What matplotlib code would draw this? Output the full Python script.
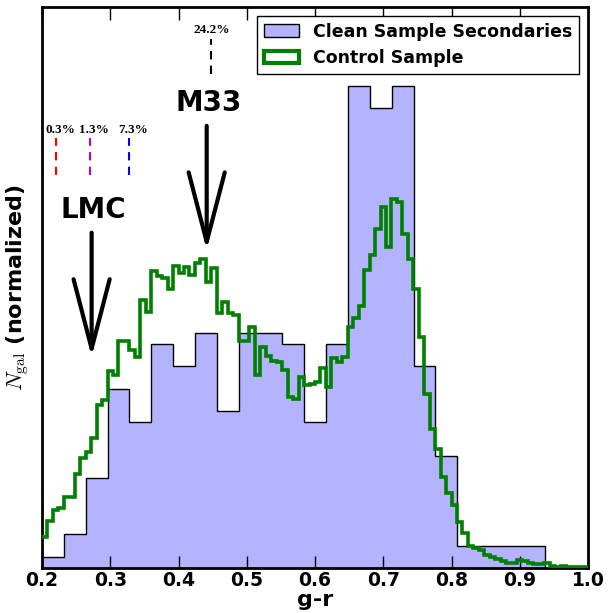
import numpy as np
import matplotlib
matplotlib.use('Agg')
import matplotlib.pyplot as plt
from matplotlib.patches import Patch

plt.rcParams['mathtext.fontset'] = 'cm'

# g-r histograms (normalized) ----------------------------------------------
# clean sample secondaries: raw counts in 23 bins from 0.2 to 0.9365
clean_lo, clean_hi = 0.2, 0.9365
clean_counts = [1, 3, 8, 16, 13, 20, 18, 21, 14, 21, 21, 20,
                13, 20, 43, 41, 43, 18, 10, 2, 2, 2, 2]
# control sample: normalized values in 100 bins from 0.2 to 1.0
ctrl_lo, ctrl_hi = 0.2, 1.0
ctrl_norm = [0.232, 0.352, 0.434, 0.449, 0.531, 0.531, 0.703, 0.823, 0.868, 0.972,
             1.219, 1.257, 1.473, 1.444, 1.698, 1.698, 1.630, 1.578, 2.004, 1.915,
             2.221, 2.184, 2.169, 2.087, 2.259, 2.206, 2.251, 2.191, 2.281, 2.311,
             2.139, 2.244, 1.907, 1.990, 1.907, 1.892, 1.698, 1.698, 1.803, 1.444,
             1.653, 1.586, 1.548, 1.541, 1.481, 1.279, 1.264, 1.429, 1.369, 1.376,
             1.391, 1.496, 1.354, 1.571, 1.541, 1.578, 1.803, 1.870, 1.960, 2.229,
             2.341, 2.536, 2.700, 2.401, 2.760, 2.737, 2.498, 2.311, 2.087, 1.728,
             1.301, 1.040, 0.890, 0.681, 0.561, 0.471, 0.344, 0.262, 0.165, 0.150,
             0.135, 0.097, 0.082, 0.067, 0.052, 0.041, 0.041, 0.060, 0.049, 0.037,
             0.030, 0.030, 0.041, 0.015, 0.011, 0.015, 0.011, 0.007, 0.007, 0.007]

# reference galaxies: (label, g-r)
arrow_names = ['LMC', 'M33']
arrow_gr = [0.2727, 0.4413]
# percentiles marked with dashed lines: (label, g-r, colour)
pct_labels = ['0.3%', '1.3%', '7.3%']
pct_gr = [0.2205, 0.2702, 0.3272]
pct_colors = ['red', 'm', 'blue']
m33_pct_label = '24.2%'
m33_pct_gr = 0.4482

# -------------------------------------------------------------------------
edges_clean = np.linspace(clean_lo, clean_hi, len(clean_counts) + 1)
counts = np.array(clean_counts, dtype=float)
clean_norm = counts / (counts.sum() * np.diff(edges_clean))
edges_ctrl = np.linspace(ctrl_lo, ctrl_hi, len(ctrl_norm) + 1)

fig = plt.figure(figsize=(6.08, 6.13), dpi=100)
ax = fig.add_axes([0.0691, 0.0734, 0.898, 0.9152])

ax.stairs(clean_norm, edges_clean, fill=True, facecolor='#b3b3ff',
          edgecolor='none', zorder=1)
ax.stairs(clean_norm, edges_clean, color='black', lw=1, baseline=0, zorder=2)
ax.stairs(ctrl_norm, edges_ctrl, color='green', lw=2.6, baseline=None, zorder=3)

# arrows for LMC and M33
arrow_tips = [1.58, 2.38]
arrow_len = 0.93
text_y = [2.68, 3.48]
for name, gr, tip, ty in zip(arrow_names, arrow_gr, arrow_tips, text_y):
    ax.annotate('', xy=(gr, tip), xytext=(gr, tip + arrow_len),
                arrowprops=dict(arrowstyle='->, head_length=2.5, head_width=0.65',
                                lw=3, color='black', mutation_scale=20,
                                shrinkA=0, shrinkB=0), zorder=5)
    ax.text(gr + 0.0025, ty, name, ha='center', va='center',
            fontsize=20, fontweight='bold', zorder=5)

# percentile dashes
for lab, gr, c in zip(pct_labels, pct_gr, pct_colors):
    ax.plot([gr, gr], [2.94, 3.22], ls='--', color=c, lw=1.5, dashes=(4, 3))
    ax.text(gr + 0.006, 3.28, lab, ha='center', va='center',
            family='Liberation Serif', fontweight='bold', fontsize=9.5)
ax.plot([m33_pct_gr, m33_pct_gr], [3.70, 3.96], ls='--', color='black',
        lw=1.5, dashes=(4, 3))
ax.text(m33_pct_gr, 4.03, m33_pct_label, ha='center', va='center',
        family='Liberation Serif', fontweight='bold', fontsize=9.5)

ax.set_xlim(0.2, 1.0)
ax.set_ylim(0, 4.2)
ax.set_yticks([])
ax.set_xticks(np.arange(0.2, 1.01, 0.1))
ax.set_xticklabels(['%.1f' % t for t in np.arange(0.2, 1.01, 0.1)],
                   fontsize=13.5, fontweight='bold')
ax.tick_params(axis='x', direction='in', length=9, width=1, top=True, pad=2)
for s in ax.spines.values():
    s.set_linewidth(2)

ax.set_xlabel('g-r', fontsize=16, fontweight='bold', labelpad=0)
ax.set_ylabel(r'$N_{\rm gal}$ (normalized)', fontsize=16, fontweight='bold',
              labelpad=8)

handles = [Patch(facecolor='#b3b3ff', edgecolor='black', lw=1),
           Patch(facecolor='white', edgecolor='green', lw=3)]
leg = ax.legend(handles, ['Clean Sample Secondaries', 'Control Sample'],
                loc='upper right', prop={'weight': 'bold', 'size': 12.5},
                fancybox=False, framealpha=1, edgecolor='black')
leg.get_frame().set_linewidth(1)

fig.savefig('out.png', dpi=100)
